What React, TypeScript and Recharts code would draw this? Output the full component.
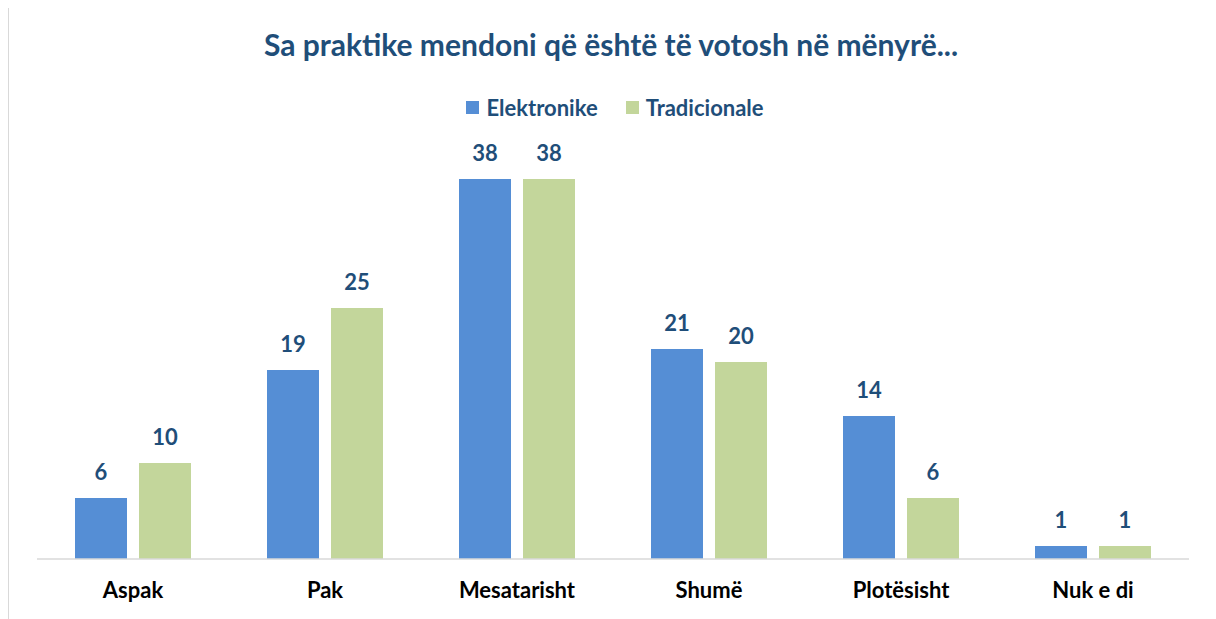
import React from 'react';
import { BarChart, Bar, XAxis, YAxis, LabelList } from 'recharts';

const categories = ['Aspak', 'Pak', 'Mesatarisht', 'Shumë', 'Plotësisht', 'Nuk e di'];
// bar heights; labels show them rounded
const elektronike = [6.1, 18.9, 38, 21, 14.3, 1.3];
const tradicionale = [9.6, 25.1, 38, 19.7, 6.1, 1.3];

const data = categories.map((name, i) => ({
  name,
  Elektronike: elektronike[i],
  Tradicionale: tradicionale[i],
}));

const FONT = 'Lato, "Open Sans", sans-serif';
const DARK = '#1F4E79';
const BLUE = '#558ED5';
const GREEN = '#C3D69B';

const roundLabel = (v: any) => Math.round(Number(v));

const CategoryTick = (props: any) => {
  const { x, y, payload } = props;
  return (
    <text x={x} y={y + 39} textAnchor='middle' fill='#000' fontFamily={FONT} fontWeight={700} fontSize={22}>
      {payload.value}
    </text>
  );
};

const App: React.FC = () => {
  return (
    <div style={{ position: 'relative', width: 1200, height: 611, fontFamily: FONT }}>
      {/* chart frame, open on the right like the source crop */}
      <div
        style={{
          position: 'absolute',
          left: -1,
          top: -2,
          width: 1209,
          height: 620,
          border: '2px solid #d9d9d9',
          borderRight: 'none',
          boxSizing: 'border-box',
        }}
      />
      <div
        style={{
          position: 'absolute',
          left: 0,
          top: 18,
          width: 1206,
          textAlign: 'center',
          color: DARK,
          fontWeight: 700,
          fontSize: 30,
        }}
      >
        Sa praktike mendoni që është të votosh në mënyrë...
      </div>
      <div
        style={{
          position: 'absolute',
          left: 0,
          top: 86,
          width: 1214,
          display: 'flex',
          justifyContent: 'center',
          color: DARK,
          fontWeight: 700,
          fontSize: 22,
        }}
      >
        <span style={{ display: 'flex', alignItems: 'center', marginRight: 28 }}>
          <span style={{ width: 13, height: 13, background: BLUE, marginRight: 7 }} />
          Elektronike
        </span>
        <span style={{ display: 'flex', alignItems: 'center' }}>
          <span style={{ width: 13, height: 13, background: GREEN, marginRight: 7 }} />
          Tradicionale
        </span>
      </div>
      <BarChart
        width={1200}
        height={611}
        data={data}
        margin={{ top: 151, right: 19, bottom: 30, left: 29 }}
        barCategoryGap={38}
        barGap={12}
      >
        <XAxis
          dataKey='name'
          axisLine={{ stroke: '#d9d9d9', strokeWidth: 1.5 }}
          tickLine={false}
          tickSize={0}
          tickMargin={0}
          tick={<CategoryTick />}
          interval={0}
        />
        <YAxis hide domain={[0, 40]} />
        <Bar dataKey='Elektronike' fill={BLUE} isAnimationActive={false}>
          <LabelList
            dataKey='Elektronike'
            position='top'
            offset={18}
            formatter={roundLabel}
            fill={DARK}
            fontFamily={FONT}
            fontWeight={700}
            fontSize={22}
          />
        </Bar>
        <Bar dataKey='Tradicionale' fill={GREEN} isAnimationActive={false}>
          <LabelList
            dataKey='Tradicionale'
            position='top'
            offset={18}
            formatter={roundLabel}
            fill={DARK}
            fontFamily={FONT}
            fontWeight={700}
            fontSize={22}
          />
        </Bar>
      </BarChart>
    </div>
  );
};

export default App;
